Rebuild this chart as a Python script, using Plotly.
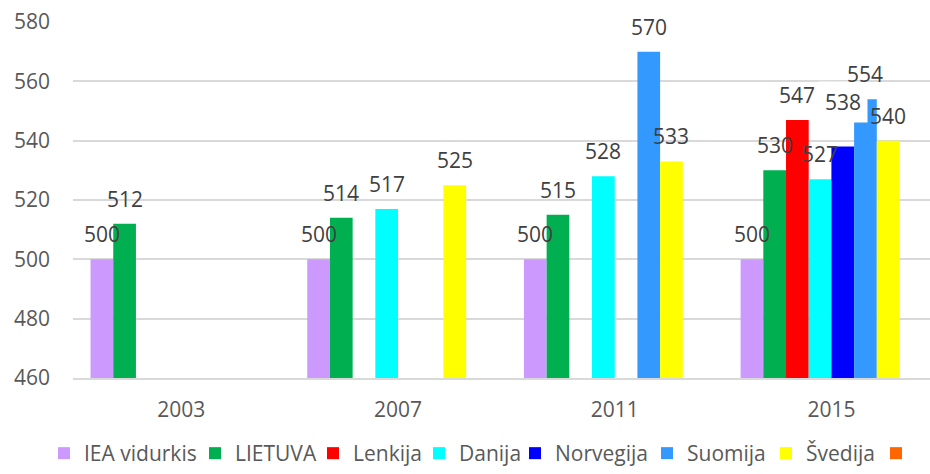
import plotly.graph_objects as go

years = ["2003", "2007", "2011", "2015"]
series_names = ["IEA vidurkis", "LIETUVA", "Lenkija", "Danija", "Norvegija", "Suomija", "Švedija", " "]
iea = [500, 500, 500, 500]
lietuva = [512, 514, 515, 530]
lenkija = [None, None, None, 547]
danija = [None, 517, 528, 527]
norvegija = [None, None, None, 538]
suomija = [None, None, 570, 554]
svedija = [None, 525, 533, 540]
orange = [None, None, None, None]
colors = ["#CC99FF", "#00B050", "#FF0000", "#00FFFF", "#0000FF", "#3399FF", "#FFFF00", "#FF6600"]

# legend text start positions (px) in the original layout
legend_text_px = [83, 234, 352, 458, 554, 686, 805, 915]

all_series = [iea, lietuva, lenkija, danija, norvegija, suomija, svedija, orange]
BARGAP = 0.162
FONT = "Open Sans"
W, H = 930, 474

fig = go.Figure()
legend_layouts = {}
for i, (name, vals, col) in enumerate(zip(series_names, all_series, colors)):
    lid = "legend" if i == 0 else f"legend{i + 1}"
    fig.add_trace(go.Bar(x=years, y=vals, name=name, marker=dict(color=col, line=dict(width=0)),
                         hoverinfo="x+y+name", legend=lid))
    legend_layouts[lid] = dict(
        orientation="h", xref="container", yref="container",
        x=(legend_text_px[i] + 1 - 40) / W, xanchor="left",
        y=0, yanchor="bottom",
        font=dict(family=FONT, size=21, color="#595959"),
        bgcolor="rgba(0,0,0,0)", borderwidth=0, itemclick=False,
    )

n = len(all_series)
bw = (1 - BARGAP) / n
annotations = []
special = []
for si, vals in enumerate(all_series):
    for ci, v in enumerate(vals):
        if v is None:
            continue
        xpos = ci + (si - (n - 1) / 2) * bw
        is_special = (si == 4 and ci == 3)
        a = dict(x=xpos, y=v, xref="x", yref="y", text=str(v), showarrow=False,
                 yanchor="middle", xanchor="center", yshift=45 if is_special else 25,
                 font=dict(family=FONT, size=21, color="#404040"))
        if is_special:
            a.update(bgcolor="white", borderpad=6)
            special.append(a)
        else:
            annotations.append(a)

fig.update_layout(
    width=W, height=H,
    margin=dict(l=73, r=0, t=22, b=96),
    paper_bgcolor="white", plot_bgcolor="white",
    barmode="group", bargap=BARGAP, bargroupgap=0,
    font=dict(family=FONT, size=21, color="#595959"),
    xaxis=dict(type="category", range=[-0.5, 3.455], showgrid=False, automargin=False,
               showline=True, linecolor="#D9D9D9", linewidth=1.5,
               ticks="outside", ticklen=12, tickcolor="rgba(0,0,0,0)",
               tickfont=dict(size=21, color="#595959")),
    yaxis=dict(range=[460, 580], dtick=20, tick0=460, showgrid=True, gridcolor="#D9D9D9",
               gridwidth=1.5, zeroline=False, showline=False, ticks="", automargin=False,
               ticklabelstandoff=22, tickfont=dict(size=21, color="#595959")),
    showlegend=True,
    annotations=special + annotations,
    **legend_layouts,
)

fig.write_html("out.html", config={"displayModeBar": False},
               post_script="document.body.style.margin='0';document.body.style.overflow='hidden';")
